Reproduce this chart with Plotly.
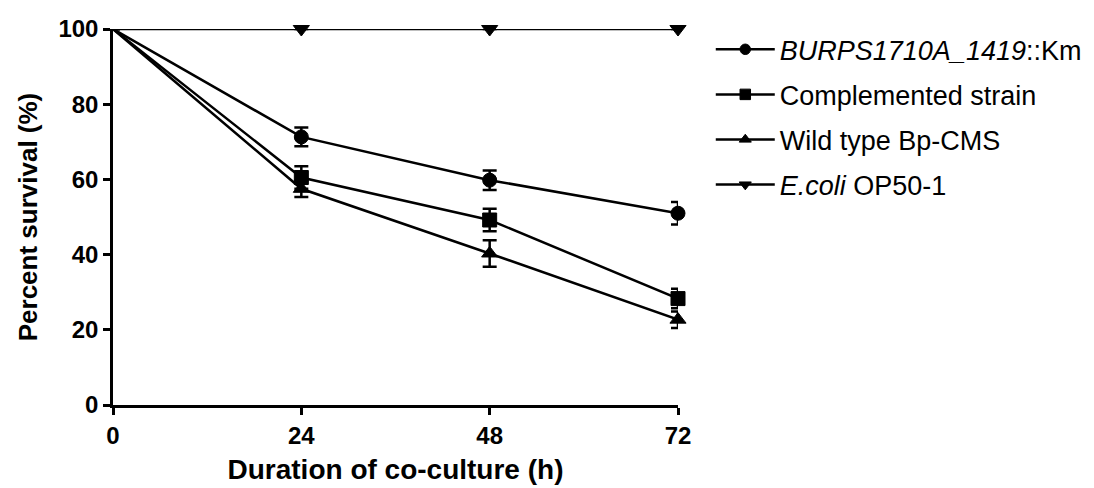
import plotly.graph_objects as go

hours = [0, 24, 48, 72]
tick_vals_y = [0, 20, 40, 60, 80, 100]

series_names = [
    "<i>BURPS1710A_1419</i>::Km",
    "Complemented strain",
    "Wild type Bp-CMS",
    "<i>E.coli</i> OP50-1",
]
mutant = [100, 71.3, 59.8, 51.0]
mutant_err = [0, 2.5, 2.6, 3.0]
complemented = [100, 60.5, 49.2, 28.3]
complemented_err = [0, 3.0, 3.0, 2.6]
wild = [100, 57.5, 40.3, 22.7]
wild_err = [0, 2.2, 3.5, 2.2]
ecoli = [100, 100, 100, 100]
ecoli_err = [0, 0, 0, 0]

symbols = ["circle", "square", "triangle-up", "triangle-down"]
values = [mutant, complemented, wild, ecoli]
errors = [mutant_err, complemented_err, wild_err, ecoli_err]

fig = go.Figure()
for i, (name, ys, es, sym) in enumerate(zip(series_names, values, errors, symbols)):
    fig.add_trace(go.Scatter(
        x=hours, y=ys, name=name, mode="lines+markers",
        line=dict(color="black", width=2.5),
        marker=dict(symbol=sym, color="black", size=[0, 14, 14, 14], opacity=1,
                    line=dict(color="black", width=1)),
        error_y=dict(type="data", array=es, visible=True, color="black", thickness=2.5, width=7),
        cliponaxis=False, legendgroup=f"g{i}", opacity=1,
    ))

fam = "Liberation Sans, Arial"
fig.update_layout(
    width=1094, height=488,
    margin=dict(l=105, r=424, t=21, b=91, autoexpand=False),
    plot_bgcolor="white", paper_bgcolor="white",
    showlegend=True,
    legend=dict(x=1.058, y=1.01, xanchor="left", yanchor="top",
                font=dict(family=fam, size=27, color="black"),
                traceorder="grouped", tracegroupgap=7, itemwidth=59),
    xaxis=dict(range=[0, 72], tickvals=hours, ticktext=[str(h) for h in hours],
               showline=True, linecolor="black", linewidth=2.5, ticks="outside",
               ticklen=7, tickwidth=2.5, tickcolor="black", showgrid=False, zeroline=False,
               tickfont=dict(family=fam, size=24, color="black", weight="bold"),
               automargin=False,
               title=dict(text="<b>Duration of co-culture (h)</b>",
                          font=dict(family=fam, size=28, color="black"), standoff=12)),
    yaxis=dict(range=[0, 100], tickvals=tick_vals_y,
               showline=True, linecolor="black", linewidth=2.5, ticks="outside",
               ticklen=7, tickwidth=2.5, tickcolor="black", showgrid=False, zeroline=False,
               tickfont=dict(family=fam, size=24, color="black", weight="bold"),
               automargin=False,
               title=dict(text="<b>Percent survival (%)</b>",
                          font=dict(family=fam, size=26, color="black"), standoff=14)),
)

fig.write_html("out.html")
